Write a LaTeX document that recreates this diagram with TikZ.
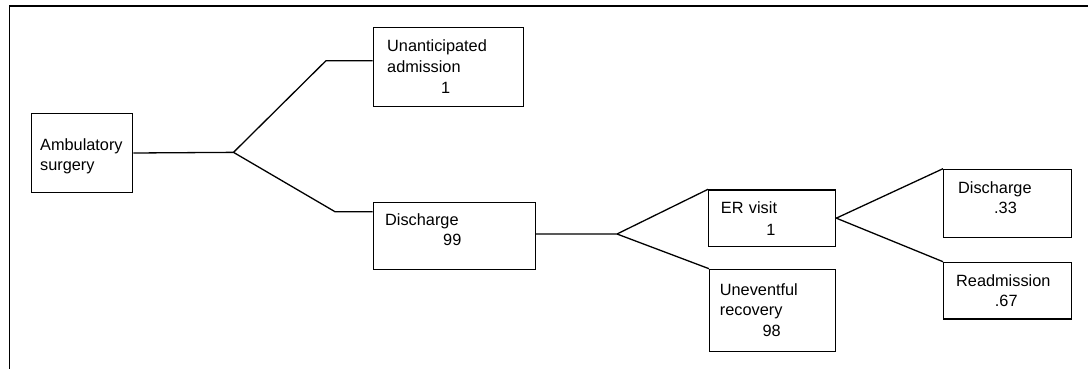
\documentclass[tikz,border=0pt]{standalone}
\usepackage{fontspec}
\setmainfont{Liberation Sans}
\begin{document}
\begin{tikzpicture}[x=1pt,y=-1pt,
  box/.style={draw, line width=1.3pt, inner sep=0pt, anchor=north west},
  lbl/.style={anchor=base west, inner sep=0pt, align=left, text width=150pt,
    font=\fontsize{16.3}{20.7}\selectfont},
  conn/.style={line width=1.3pt}]
\useasboundingbox (0,0) rectangle (1088,369);
% frame
\draw[conn] (9.5,369) -- (9.5,6) -- (1088,6);
% boxes
\node[box, minimum width=101pt, minimum height=79.3pt] (amb) at (31,112.7) {};
\node[lbl] (ambt) at (40,150) {Ambulatory\\surgery};
\node[box, minimum width=150pt, minimum height=79pt] (unant) at (372.5,26.7) {};
\node[lbl] (unantt) at (387,52) {Unanticipated\\admission\\\hspace*{54pt}1};
\node[box, minimum width=162pt, minimum height=67.3pt] (dis) at (372.5,201.7) {};
\node[lbl] (dist) at (385,225) {Discharge\\\hspace*{58pt}99};
\node[box, minimum width=127pt, minimum height=56.4pt] (er) at (708,189.3) {};
\node[lbl] (ert) at (720.7,213) {ER visit\\[1.3pt]\hspace*{45.5pt}1};
\node[box, minimum width=126pt, minimum height=82pt] (unev) at (709,268.7) {};
\node[lbl] (unevt) at (719.7,295) {Uneventful\\recovery\\\hspace*{42.6pt}98};
\node[box, minimum width=128pt, minimum height=68.3pt] (dis2) at (943,168.7) {};
\node[lbl] (dis2t) at (958,193) {Discharge\\\hspace*{36pt}.33};
\node[box, minimum width=128pt, minimum height=56.6pt] (readm) at (943,261.7) {};
\node[lbl] (readmt) at (956,286) {Readmission\\\hspace*{38.7pt}.67};
% connectors
\coordinate (f1) at (233.5,152.35);
\coordinate (c1) at (326,60.7);
\coordinate (c2) at (335,211.7);
\draw[conn] (amb.east) -- (f1) -- (c1) -- (unant.west |- c1);
\draw[conn] (f1) -- (c2) -- (dis.west |- c2);
\coordinate (f2) at (617,234);
\draw[conn] (dis.east |- f2) -- (f2) -- (er.north west);
\draw[conn] (f2) -- (unev.north west);
\draw[conn] (er.east) -- (dis2.north west);
\draw[conn] (er.east) -- (readm.north west);
\end{tikzpicture}
\end{document}
